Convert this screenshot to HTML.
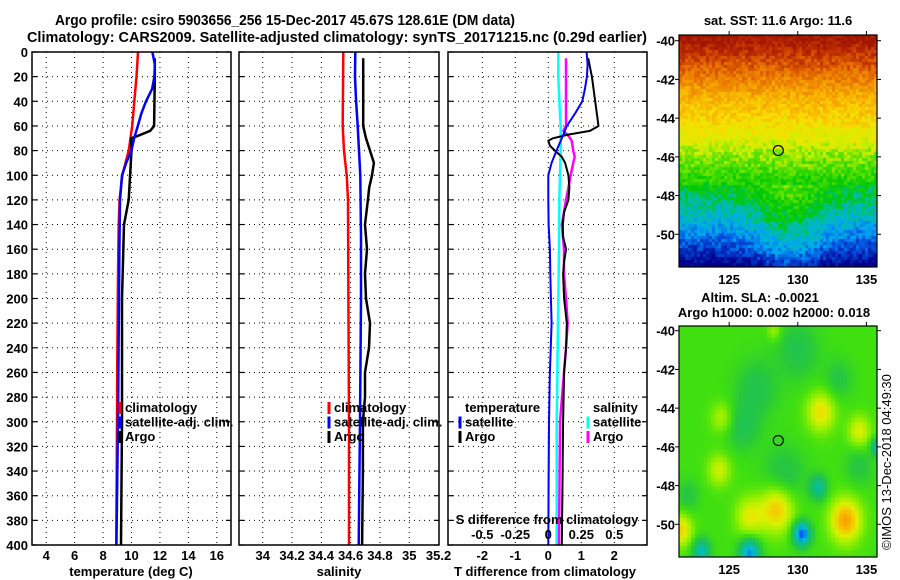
<!DOCTYPE html>
<html><head><meta charset="utf-8">
<style>
html,body{margin:0;padding:0;background:#fff;}
body{width:900px;height:580px;position:relative;overflow:hidden;font-family:"Liberation Sans",sans-serif;}
svg text{font-family:"Liberation Sans",sans-serif;font-weight:bold;font-size:13px;fill:#000;}
canvas{position:absolute;}
</style></head>
<body>
<svg id="fig" width="900" height="580" style="position:absolute;left:0;top:0">
<text x="55" y="25" style="font-size:14.4px" textLength="460" lengthAdjust="spacingAndGlyphs">Argo profile: csiro 5903656_256 15-Dec-2017 45.67S 128.61E (DM data)</text>
<text x="27" y="42" style="font-size:14.4px" textLength="620" lengthAdjust="spacingAndGlyphs">Climatology: CARS2009. Satellite-adjusted climatology: synTS_20171215.nc (0.29d earlier)</text>
<text x="778" y="25" text-anchor="middle">sat. SST: 11.6 Argo: 11.6</text>
<text x="760" y="302" text-anchor="middle">Altim. SLA: -0.0021</text>
<text x="774" y="317" text-anchor="middle">Argo h1000: 0.002 h2000: 0.018</text>
<text transform="translate(891,462) rotate(-90)" text-anchor="middle" style="font-weight:normal">©IMOS 13-Dec-2018 04:49:30</text>
</svg>
<canvas id="sst" width="198" height="232" style="left:679px;top:35px"></canvas>
<canvas id="sla" width="198" height="231" style="left:679px;top:326px"></canvas>
<svg id="ov" width="900" height="580" style="position:absolute;left:0;top:0"></svg>
<script>
// ---- Panel 1: temperature ----
const tClimDepth=[0,20,40,60,80,100,120,140,180,250,300,400];
const tClimVal=[10.46,10.35,10.2,10.05,9.8,9.35,9.16,9.1,9.05,9.0,8.98,8.93];
const tSatDepth=[0,10,20,30,40,50,60,70,80,90,100,120,160,200,300,400];
const tSatVal=[11.47,11.64,11.61,11.45,11.02,10.69,10.44,10.18,9.99,9.63,9.33,9.19,9.15,9.12,9.05,8.94];
const tArgoDepth=[5,20,60,64,68,70,80,100,120,140,200,300,400];
const tArgoVal=[11.64,11.64,11.59,11.31,10.46,9.97,10.0,9.9,9.8,9.47,9.33,9.33,9.26];
const tTicks=[4,6,8,10,12,14,16];
// ---- Panel 2: salinity ----
const sClimDepth=[0,60,80,100,120,200,300,400];
const sClimVal=[34.55,34.546,34.555,34.573,34.582,34.585,34.589,34.589];
const sSatDepth=[0,20,40,60,80,100,150,200,300,400];
const sSatVal=[34.632,34.63,34.637,34.648,34.657,34.666,34.671,34.671,34.664,34.655];
const sArgoDepth=[5,60,70,80,90,100,110,120,140,160,180,200,220,240,260,280,300,340,400];
const sArgoVal=[34.686,34.686,34.705,34.732,34.759,34.746,34.727,34.718,34.698,34.712,34.698,34.705,34.732,34.725,34.698,34.698,34.684,34.684,34.678];
const sTicks=[34,34.2,34.4,34.6,34.8,35,35.2];
// ---- Panel 3: differences ----
const dTSatDepth=[0,10,20,30,40,50,60,70,80,90,100,120,140,160,180,200,220,260,300,350,400];
const dTSatVal=[1.16,1.19,1.17,1.11,1.03,0.81,0.56,0.41,0.25,0.10,0,0,0.01,0.05,0.06,0.08,0.10,0.05,0.02,0.01,0];
const dTArgoDepth=[5,20,40,60,64,67,70,72,76,80,85,90,100,110,120,130,140,150,160,170,180,200,220,240,260,300,350,400];
const dTArgoVal=[1.21,1.32,1.42,1.52,1.26,0.60,0.14,0,0.05,0.20,0.41,0.51,0.61,0.64,0.61,0.48,0.44,0.45,0.54,0.48,0.45,0.48,0.56,0.54,0.48,0.45,0.43,0.41];
const dSSatDepth=[0,20,40,60,80,100,120,160,200,300,400];
const dSSatVal=[0.076,0.076,0.083,0.094,0.094,0.089,0.083,0.081,0.076,0.064,0.064];
const dSArgoDepth=[5,20,40,60,64,68,72,80,85,90,100,110,120,140,160,180,200,220,240,260,300,350,400];
const dSArgoVal=[0.134,0.134,0.134,0.134,0.114,0.152,0.177,0.189,0.2,0.189,0.17,0.152,0.134,0.102,0.119,0.119,0.134,0.147,0.134,0.119,0.089,0.085,0.081];
const dTTicks=[-2,-1,0,1,2];
const dSTicks=[-0.5,-0.25,0,0.25,0.5];
const depthTicks=[0,20,40,60,80,100,120,140,160,180,200,220,240,260,280,300,320,340,360,380,400];
// ---- Maps ----
const sstLats=[-39.7,-41,-42,-43,-44,-45,-46,-47,-48,-49,-50,-51,-51.7];
const sstVals=[16,15,14.2,13.4,12.9,12.3,11.6,11,10.5,9.9,9.2,8.4,7.6];
const slaBlobLon=[131.7,134.5,124.5,124.3,128.5,126.5,133.5,121.5,130.3,131.5,126.5,123,127,130,133,129,122,135.8,128.3,126,134.5];
const slaBlobLat=[-44.2,-45.2,-44.5,-47.2,-49.2,-49.6,-49.8,-50.3,-50.5,-48.1,-51.5,-51.4,-43,-41,-42.5,-47.5,-48.5,-46,-40,-45,-47];
const slaBlobAmp=[0.12,0.1,0.07,0.09,0.15,0.1,0.18,0.13,-0.3,-0.15,-0.25,-0.18,-0.06,-0.06,-0.05,-0.06,-0.05,-0.2,0.06,-0.06,-0.05];
const slaBlobRad=[1.0,0.8,0.8,0.8,1.2,1.0,1.1,0.8,0.6,0.6,0.7,0.6,1.5,1.5,1.0,1.5,0.8,0.4,0.5,1.2,1.0];

const NS='http://www.w3.org/2000/svg';
const fig=document.getElementById('fig');
const Y=d=>52+d*493/400;
function mk(tag,attrs,parent){const e=document.createElementNS(NS,tag);for(const k in attrs)e.setAttribute(k,attrs[k]);(parent||fig).appendChild(e);return e;}
function txt(x,y,s,anchor,parent){const t=mk('text',{x:x,y:y,'text-anchor':anchor||'start'},parent);t.textContent=s;return t;}

const panels=[
 {x0:32,x1:231,sc:v=>32+(v-3)*(199/14)},
 {x0:239,x1:439,sc:v=>239.3+(v-33.84)*146.5},
 {x0:448,x1:647,sc:v=>548.3+v*33}
];
const Sx=v=>548.3+v*132;

function frame(p,idx,ticks,labels){
 const g=mk('g',{});
 
 
 ticks.forEach(v=>{const x=p.sc(v);if(x>p.x0+2&&x<p.x1-2){const l=mk('line',{x1:x,x2:x,y1:52,y2:545,stroke:'#000','stroke-width':1,'stroke-dasharray':'1,4'},g);}});
 depthTicks.forEach(d=>{const y=Y(d);if(d>0&&d<400){const l=mk('line',{x1:p.x0,x2:p.x1,y1:y,y2:y,stroke:'#000','stroke-width':1,'stroke-dasharray':'1,4'},g);}
  mk('line',{x1:p.x0,x2:p.x0+5,y1:y,y2:y,stroke:'#000','stroke-width':1.2},g);
  mk('line',{x1:p.x1-5,x2:p.x1,y1:y,y2:y,stroke:'#000','stroke-width':1.2},g);
 });
 if(labels){ticks.forEach(v=>{const t=txt(p.sc(v),560,String(v),'middle',g);});}
 return g;
}
function line(g,sc,depths,vals,color,w,name){
 const pts=depths.map((d,i)=>sc(vals[i]).toFixed(1)+','+Y(d).toFixed(1)).join(' ');
 const l=mk('polyline',{points:pts,fill:'none',stroke:color,'stroke-width':w,'stroke-linejoin':'round'},g);
 
 
}
function border(p,g){const r=mk('rect',{x:p.x0,y:52,width:p.x1-p.x0,height:493,fill:'none',stroke:'#000','stroke-width':1.5},g);}
function legend(g,x,y,items){items.forEach((it,i)=>{const yy=y+i*14.5;if(it[1]){const b=mk('line',{x1:x,x2:x,y1:yy-10,y2:yy+2,stroke:it[1],'stroke-width':3},g);}const t=txt(x+5,yy,it[0],'start',g);});}

let g1=frame(panels[0],0,tTicks,true);
depthTicks.forEach(d=>{const t=txt(28,Y(d)+5,String(d),'end',g1);});
line(g1,panels[0].sc,tClimDepth,tClimVal,'#ff0000',2.5,'temperature-climatology-line');
line(g1,panels[0].sc,tArgoDepth,tArgoVal,'#000',2.5,'temperature-argo-line');
line(g1,panels[0].sc,tSatDepth,tSatVal,'#0000ff',2.5,'temperature-satellite-line');
legend(g1,120,412,[['climatology','#ff0000'],['satellite-adj. clim.','#0000ff'],['Argo','#000']]);
border(panels[0],g1);
let xt1=txt(131,576,'temperature (deg C)','middle',g1);

let g2=frame(panels[1],1,sTicks,true);
line(g2,panels[1].sc,sClimDepth,sClimVal,'#ff0000',2.5,'salinity-climatology-line');
line(g2,panels[1].sc,sArgoDepth,sArgoVal,'#000',2.5,'salinity-argo-line');
line(g2,panels[1].sc,sSatDepth,sSatVal,'#0000ff',2.5,'salinity-satellite-line');
legend(g2,329,412,[['climatology','#ff0000'],['satellite-adj. clim.','#0000ff'],['Argo','#000']]);
border(panels[1],g2);
let xt2=txt(339,576,'salinity','middle',g2);

let g3=frame(panels[2],2,dTTicks,true);
line(g3,Sx,dSSatDepth,dSSatVal,'#00ffff',2.5,'salinity-diff-satellite-line');
line(g3,Sx,dSArgoDepth,dSArgoVal,'#ff00ff',2.5,'salinity-diff-argo-line');
line(g3,panels[2].sc,dTArgoDepth,dTArgoVal,'#000',2,'temperature-diff-argo-line');
line(g3,panels[2].sc,dTSatDepth,dTSatVal,'#0000ff',2,'temperature-diff-satellite-line');
legend(g3,460,412,[['temperature',null],['satellite','#0000ff'],['Argo','#000']]);
legend(g3,588,412,[['salinity',null],['satellite','#00ffff'],['Argo','#ff00ff']]);
let st=txt(547,524,'S difference from climatology','middle',g3);
dSTicks.forEach(v=>{const t=txt(Sx(v),539,String(v),'middle',g3);});
border(panels[2],g3);
let xt3=txt(545,576,'T difference from climatology','middle',g3);

function hash(i,j){let h=(i*374761393+j*668265263)^0x5bd1e995;h=(h^(h>>>13))*1274126177;h=h^(h>>>16);return ((h>>>0)%1000)/1000-0.5;}
function interp(xs,ys,x){if(x>=xs[0])return ys[0];for(let i=1;i<xs.length;i++){if(x>=xs[i]){const t=(x-xs[i-1])/(xs[i]-xs[i-1]);return ys[i-1]+t*(ys[i]-ys[i-1]);}}return ys[ys.length-1];}
function cmap(stops,v){if(v<=stops[0][0])return stops[0][1];for(let i=1;i<stops.length;i++){if(v<=stops[i][0]){const a=stops[i-1],b=stops[i],t=(v-a[0])/(b[0]-a[0]);return a[1].map((c,k)=>Math.round(c+t*(b[1][k]-c)));}}return stops[stops.length-1][1];}
const sstStops=[[7.6,[0,0,140]],[8.5,[0,80,224]],[9.2,[0,168,240]],[9.8,[0,190,170]],[10.5,[0,200,0]],[11.3,[80,224,0]],[12.0,[210,240,0]],[12.7,[248,224,0]],[13.5,[248,176,0]],[14.5,[232,112,0]],[15.3,[192,48,0]],[16,[160,20,0]]];
const lonAt=x=>121.37+x/13.73, latAt=y=>-39.7-y/19.36;
(function(){const c=document.getElementById('sst').getContext('2d');const cs=3;
 for(let j=0;j*cs<232;j++)for(let i=0;i*cs<198;i++){const lon=lonAt(i*cs+1.5),lat=latAt(j*cs+1.5);
  let v=interp(sstLats,sstVals,lat);
  if(lat<-47.5)v+=0.9*Math.exp(-Math.pow((lon-129.5)/2.6,2))-0.3;
  v+=hash(i,j)*0.9;const col=cmap(sstStops,v);c.fillStyle='rgb('+col+')';c.fillRect(i*cs,j*cs,cs,cs);}
})();
const slaStops=[[-0.3,[0,80,255]],[-0.2,[0,190,210]],[-0.1,[20,190,110]],[-0.04,[40,200,60]],[0,[64,224,16]],[0.05,[150,240,0]],[0.1,[224,240,0]],[0.15,[248,192,0]],[0.2,[248,144,0]]];
const latAt2=y=>-39.75-y/19.36;
(function(){const c=document.getElementById('sla').getContext('2d');const cs=4;
 for(let j=0;j*cs<231;j++)for(let i=0;i*cs<198;i++){const lon=lonAt(i*cs+2),lat=latAt2(j*cs+2);let v=0;
  for(let k=0;k<slaBlobLon.length;k++){const dx=(lon-slaBlobLon[k])/slaBlobRad[k],dy=(lat-slaBlobLat[k])/slaBlobRad[k];v+=slaBlobAmp[k]*Math.exp(-(dx*dx+dy*dy));}
  const col=cmap(slaStops,v);c.fillStyle='rgb('+col+')';c.fillRect(i*cs,j*cs,cs,cs);}
})();
const ov=document.getElementById('ov');
function mapAxes(top,bottom,lat40y,name){
 const g=mk('g',{},ov);
 const r=mk('rect',{x:679,y:top,width:198,height:bottom-top,fill:'none',stroke:'#000','stroke-width':1.2},g);
 
 [-40,-42,-44,-46,-48,-50].forEach(l=>{const y=lat40y+(-40-l)*19.36;mk('line',{x1:675,x2:679,y1:y,y2:y,stroke:'#000'},g);mk('line',{x1:877,x2:881,y1:y,y2:y,stroke:'#000'},g);const t=txt(675,y+5,String(l),'end',g);});
 [125,130,135].forEach(l=>{const x=679.3+(l-121.37)*13.73;mk('line',{x1:x,x2:x,y1:top-4,y2:top,stroke:'#000'},g);const t=txt(x,bottom+17,String(l),'middle',g);});
 const c=mk('circle',{cx:778.3,cy:lat40y+5.67*19.36,r:5,fill:'none',stroke:'#000','stroke-width':1.2},g);
 
}
mapAxes(35,267,40.7,'sst-map-axes');
mapAxes(326,557,330.7,'sla-map-axes');
</script>
</body></html>
